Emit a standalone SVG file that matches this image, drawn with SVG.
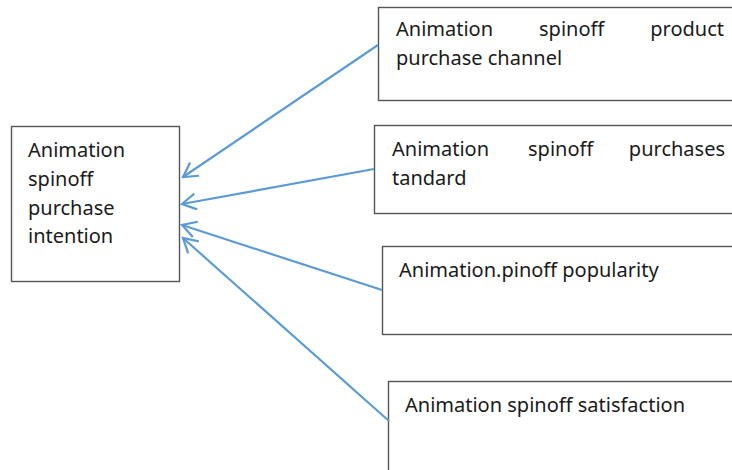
<svg xmlns="http://www.w3.org/2000/svg" width="732" height="470" viewBox="0 0 732 470">
<style>
.box{fill:#fff;stroke:#555;stroke-width:1.4}
.t{font-family:"Noto Sans","Open Sans",sans-serif;font-size:20px;fill:#1a1a1a}
.c{stroke:#5B9BD5;stroke-width:2.2;fill:none;marker-end:url(#ah)}
</style>
<defs>
<marker id="ah" markerWidth="20" markerHeight="20" refX="15" refY="9" orient="auto" markerUnits="userSpaceOnUse">
<path d="M1,1 L15,9 L1,17" fill="none" stroke="#5B9BD5" stroke-width="2.2"/>
</marker>
</defs>
<rect width="732" height="470" fill="#fff"/>
<g id="target">
<rect class="box" x="11.5" y="126.5" width="168" height="155"/>
<text class="t" x="28" y="157">Animation</text>
<text class="t" x="28" y="186">spinoff</text>
<text class="t" x="28" y="215">purchase</text>
<text class="t" x="28" y="243">intention</text>
</g>
<g id="channel">
<rect class="box" x="378.5" y="7.5" width="360" height="93"/>
<text class="t" x="396" y="36">Animation</text>
<text class="t" x="539" y="36">spinoff</text>
<text class="t" x="724" y="36" text-anchor="end">product</text>
<text class="t" x="396" y="65">purchase channel</text>
</g>
<g id="standard">
<rect class="box" x="374.5" y="125.5" width="365" height="88"/>
<text class="t" x="392" y="156">Animation</text>
<text class="t" x="528" y="156">spinoff</text>
<text class="t" x="725" y="156" text-anchor="end">purchases</text>
<text class="t" x="392" y="185">tandard</text>
</g>
<g id="popularity">
<rect class="box" x="382.5" y="246.5" width="360" height="88"/>
<text class="t" x="399" y="277">Animation.pinoff popularity</text>
</g>
<g id="satisfaction">
<rect class="box" x="388.5" y="381.5" width="360" height="100"/>
<text class="t" x="405" y="412">Animation spinoff satisfaction</text>
</g>
<g id="connectors">
<line class="c" x1="378" y1="45" x2="183" y2="177"/>
<line class="c" x1="374" y1="169" x2="182" y2="204"/>
<line class="c" x1="382" y1="290" x2="182" y2="225"/>
<line class="c" x1="389" y1="421" x2="183" y2="238"/>
</g>
</svg>
